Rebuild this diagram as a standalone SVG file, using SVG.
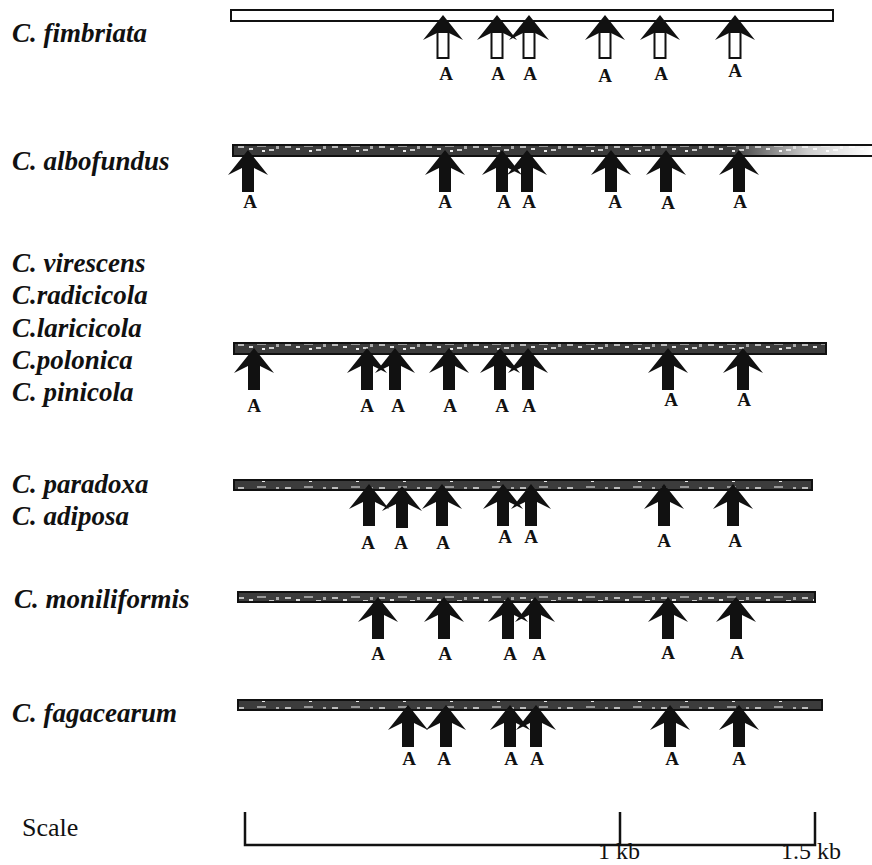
<svg xmlns="http://www.w3.org/2000/svg" xmlns:xlink="http://www.w3.org/1999/xlink" width="872" height="865" viewBox="0 0 872 865">
<style>
.sp{font-family:"Liberation Serif","Times New Roman",serif;font-weight:bold;font-style:italic;font-size:27px;fill:#111}
.a{font-family:"Liberation Serif","Times New Roman",serif;font-weight:bold;font-size:19px;fill:#111;text-anchor:middle}
.sc{font-family:"Liberation Serif","Times New Roman",serif;font-size:26px;fill:#111}
.kb{font-family:"Liberation Serif","Times New Roman",serif;font-size:24px;fill:#111}
.bar{stroke:#111;stroke-width:2}
.dark{fill:url(#tex)}
.arr{fill:#111}
.hshaft{fill:#fff;stroke:#111;stroke-width:2}
</style>
<defs>
<pattern id="tex" patternUnits="userSpaceOnUse" width="47" height="11">
<rect width="47" height="11" fill="#3c3c3c"/>
<rect x="3" y="3" width="6" height="2" fill="#bbb"/>
<rect x="14" y="5" width="4" height="2" fill="#ddd"/>
<rect x="22" y="2" width="9" height="2" fill="#999"/>
<rect x="34" y="6" width="5" height="2" fill="#ccc"/>
<rect x="41" y="3" width="3" height="3" fill="#aaa"/>
<rect x="27" y="7" width="3" height="2" fill="#eee"/>
</pattern>
<linearGradient id="fade" gradientUnits="userSpaceOnUse" x1="233" y1="0" x2="872" y2="0">
<stop offset="0" stop-color="#fff" stop-opacity="0"/>
<stop offset="0.78" stop-color="#fff" stop-opacity="0"/>
<stop offset="0.9" stop-color="#fff" stop-opacity="0.75"/>
<stop offset="1" stop-color="#fff" stop-opacity="1"/>
</linearGradient>
<path id="arr" class="arr" d="M0,0 L20,25 L6,18 L6,42 L-6,42 L-6,18 L-20,25 Z"/>
<g id="harr">
<path class="arr" d="M0,0 L20,25 L6,18 L-6,18 L-20,25 Z"/>
<rect class="hshaft" x="-5.5" y="17" width="11" height="26"/>
</g>
</defs>
<rect width="872" height="865" fill="#fff"/>

<g id="row1">
<text class="sp" x="12" y="42">C. fimbriata</text>
<rect class="bar" x="231" y="10" width="602" height="11" fill="#fff"/>
<use href="#harr" x="443" y="15"/>
<use href="#harr" x="497" y="15"/>
<use href="#harr" x="529" y="15"/>
<use href="#harr" x="605" y="15"/>
<use href="#harr" x="660" y="15"/>
<use href="#harr" x="735" y="15"/>
<text class="a" x="446" y="80">A</text>
<text class="a" x="498" y="80">A</text>
<text class="a" x="530" y="80">A</text>
<text class="a" x="605" y="82">A</text>
<text class="a" x="661" y="80">A</text>
<text class="a" x="735" y="77">A</text>
</g>

<g id="row2">
<text class="sp" x="12" y="170">C. albofundus</text>
<rect class="bar dark" x="233" y="145" width="645" height="11"/>
<rect x="233" y="146" width="645" height="9" fill="url(#fade)"/>
<use href="#arr" x="248" y="150"/>
<use href="#arr" x="445" y="150"/>
<use href="#arr" x="502" y="150"/>
<use href="#arr" x="527" y="150"/>
<use href="#arr" x="611" y="150"/>
<use href="#arr" x="666" y="150"/>
<use href="#arr" x="739" y="150"/>
<text class="a" x="250" y="208">A</text>
<text class="a" x="445" y="208">A</text>
<text class="a" x="504" y="208">A</text>
<text class="a" x="529" y="208">A</text>
<text class="a" x="615" y="208">A</text>
<text class="a" x="668" y="209">A</text>
<text class="a" x="740" y="208">A</text>
</g>

<g id="row3">
<text class="sp" x="12" y="272">C. virescens</text>
<text class="sp" x="12" y="304">C.radicicola</text>
<text class="sp" x="12" y="337">C.laricicola</text>
<text class="sp" x="12" y="369">C.polonica</text>
<text class="sp" x="12" y="401">C. pinicola</text>
<rect class="bar dark" x="234" y="343" width="592" height="11"/>
<use href="#arr" x="254" y="348"/>
<use href="#arr" x="367" y="348"/>
<use href="#arr" x="395" y="348"/>
<use href="#arr" x="449" y="348"/>
<use href="#arr" x="500" y="348"/>
<use href="#arr" x="528" y="348"/>
<use href="#arr" x="668" y="348"/>
<use href="#arr" x="743" y="348"/>
<text class="a" x="254" y="412">A</text>
<text class="a" x="367" y="412">A</text>
<text class="a" x="398" y="412">A</text>
<text class="a" x="450" y="412">A</text>
<text class="a" x="502" y="412">A</text>
<text class="a" x="529" y="412">A</text>
<text class="a" x="671" y="406">A</text>
<text class="a" x="744" y="406">A</text>
</g>

<g id="row4">
<text class="sp" x="12" y="493">C. paradoxa</text>
<text class="sp" x="12" y="525">C. adiposa</text>
<rect class="bar dark" x="234" y="480" width="578" height="10"/>
<use href="#arr" x="369" y="484"/>
<use href="#arr" x="402" y="486"/>
<use href="#arr" x="442" y="484"/>
<use href="#arr" x="503" y="484"/>
<use href="#arr" x="531" y="484"/>
<use href="#arr" x="664" y="484"/>
<use href="#arr" x="733" y="484"/>
<text class="a" x="368" y="549">A</text>
<text class="a" x="401" y="549">A</text>
<text class="a" x="443" y="549">A</text>
<text class="a" x="505" y="543">A</text>
<text class="a" x="531" y="543">A</text>
<text class="a" x="664" y="547">A</text>
<text class="a" x="735" y="547">A</text>
</g>

<g id="row5">
<text class="sp" x="14" y="608">C. moniliformis</text>
<rect class="bar dark" x="238" y="592" width="577" height="10"/>
<use href="#arr" x="378" y="597"/>
<use href="#arr" x="444" y="597"/>
<use href="#arr" x="508" y="597"/>
<use href="#arr" x="535" y="597"/>
<use href="#arr" x="668" y="597"/>
<use href="#arr" x="736" y="597"/>
<text class="a" x="378" y="660">A</text>
<text class="a" x="445" y="660">A</text>
<text class="a" x="510" y="660">A</text>
<text class="a" x="539" y="660">A</text>
<text class="a" x="668" y="659">A</text>
<text class="a" x="737" y="659">A</text>
</g>

<g id="row6">
<text class="sp" x="12" y="722">C. fagacearum</text>
<rect class="bar dark" x="238" y="700" width="584" height="10"/>
<use href="#arr" x="408" y="705"/>
<use href="#arr" x="446" y="705"/>
<use href="#arr" x="510" y="705"/>
<use href="#arr" x="536" y="705"/>
<use href="#arr" x="670" y="705"/>
<use href="#arr" x="739" y="705"/>
<text class="a" x="409" y="765">A</text>
<text class="a" x="444" y="765">A</text>
<text class="a" x="511" y="765">A</text>
<text class="a" x="537" y="765">A</text>
<text class="a" x="672" y="765">A</text>
<text class="a" x="739" y="765">A</text>
</g>

<g id="scale">
<text class="sc" x="22" y="836">Scale</text>
<path d="M245,812 V845 H815 V812 M620,812 V845" fill="none" stroke="#111" stroke-width="2.5"/>
<text class="kb" x="598" y="859">1 kb</text>
<text class="kb" x="781" y="859">1.5 kb</text>
</g>
<g id="connectors"></g>
</svg>
